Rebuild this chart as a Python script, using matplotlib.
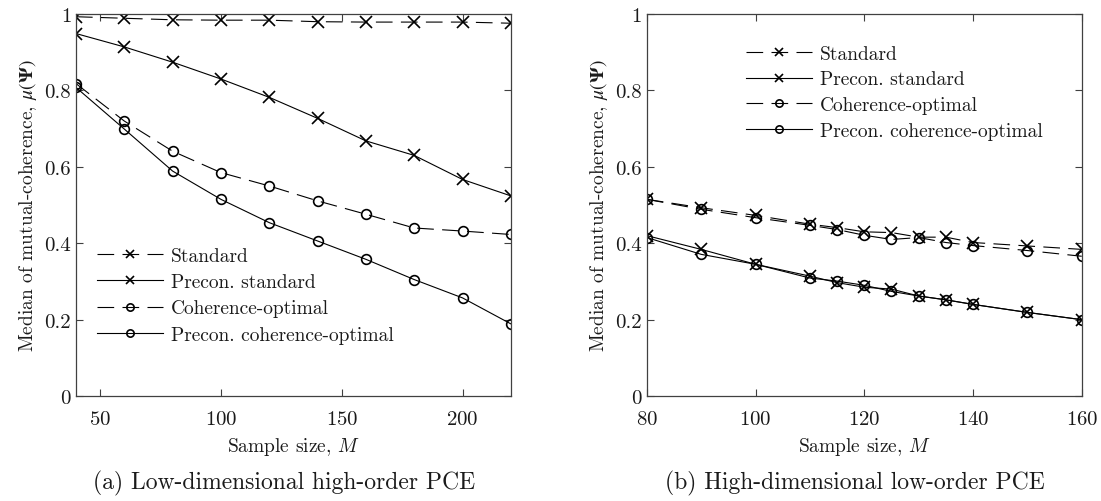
import matplotlib
matplotlib.use("Agg")
from matplotlib import pyplot as plt

plt.rcParams["font.family"] = ["cmr10", "DejaVu Serif"]
plt.rcParams["mathtext.fontset"] = "cm"
plt.rcParams["axes.formatter.use_mathtext"] = True
plt.rcParams["lines.scale_dashes"] = False
plt.rcParams["text.color"] = "#1a1a1a"
plt.rcParams["axes.labelcolor"] = "#1a1a1a"

# (a) low-dimensional high-order PCE
m_a = [40, 60, 80, 100, 120, 140, 160, 180, 200, 220]
std_a = [0.993, 0.989, 0.985, 0.984, 0.984, 0.980, 0.979, 0.979, 0.979, 0.976]
pre_std_a = [0.949, 0.914, 0.874, 0.830, 0.782, 0.727, 0.668, 0.630, 0.567, 0.524]
coh_a = [0.818, 0.720, 0.641, 0.585, 0.550, 0.511, 0.476, 0.440, 0.432, 0.423]
pre_coh_a = [0.808, 0.699, 0.589, 0.515, 0.454, 0.406, 0.358, 0.305, 0.257, 0.189]

# (b) high-dimensional low-order PCE
m_b = [80, 90, 100, 110, 115, 120, 125, 130, 135, 140, 150, 160]
std_b = [0.515, 0.493, 0.473, 0.450, 0.441, 0.430, 0.428, 0.416, 0.416, 0.402, 0.393, 0.384]
pre_std_b = [0.420, 0.384, 0.345, 0.314, 0.297, 0.285, 0.280, 0.262, 0.252, 0.240, 0.219, 0.200]
coh_b = [0.515, 0.489, 0.467, 0.447, 0.436, 0.421, 0.410, 0.415, 0.402, 0.394, 0.381, 0.366]
pre_coh_b = [0.415, 0.371, 0.345, 0.309, 0.301, 0.290, 0.274, 0.262, 0.252, 0.240, 0.219, 0.200]

labels = ["Standard", "Precon. standard", "Coherence-optimal", "Precon. coherence-optimal"]
dash = (12, 6)


def draw(ax, m, series):
    styles = [("x", True), ("x", False), ("o", True), ("o", False)]
    for y, lab, (mk, dashed) in zip(series, labels, styles):
        ms = 8 if mk == "x" else 7
        line, = ax.plot(m, y, color="black", lw=0.8, marker=mk, ms=ms,
                        mew=1.2, mfc="none", label=lab)
        if dashed:
            line.set_dashes(dash)
    ax.set_ylim(0, 1)
    ax.set_yticks([0, 0.2, 0.4, 0.6, 0.8, 1])
    ax.set_yticklabels(["0", "0.2", "0.4", "0.6", "0.8", "1"])
    ax.tick_params(direction="in", top=True, right=True, length=5,
                   labelsize=15, width=0.8, color="#404040", labelcolor="#1a1a1a")
    ax.tick_params(axis="x", pad=10)
    for s in ax.spines.values():
        s.set_color("#404040")
        s.set_linewidth(0.9)
    ax.set_xlabel("Sample size, $M$", fontsize=14, labelpad=5)
    # cm mathtext has no bold Greek, so the label's math uses stix
    ax.set_ylabel(r"Median of mutual-coherence, $\mu(\mathbf{\Psi})$", fontsize=14,
                  labelpad=4, math_fontfamily="stix")


fig = plt.figure(figsize=(11.01, 5.02), dpi=100)
ax1 = fig.add_axes([0.069, 0.209, 0.395, 0.761])
ax2 = fig.add_axes([0.5875, 0.209, 0.395, 0.761])

draw(ax1, m_a, [std_a, pre_std_a, coh_a, pre_coh_a])
ax1.set_xlim(40, 220)
ax1.set_xticks([50, 100, 150, 200])
ax1.legend(loc="upper left", bbox_to_anchor=(0.03, 0.41), frameon=False,
           fontsize=14, handlelength=3.4, handletextpad=0.4, labelspacing=0.42,
           markerscale=0.75, borderaxespad=0)

draw(ax2, m_b, [std_b, pre_std_b, coh_b, pre_coh_b])
ax2.set_xlim(80, 160)
ax2.set_xticks([80, 100, 120, 140, 160])
ax2.legend(loc="upper left", bbox_to_anchor=(0.21, 0.94), frameon=False,
           fontsize=14, handlelength=3.4, handletextpad=0.4, labelspacing=0.4,
           markerscale=0.75, borderaxespad=0)

fig.text(0.258, 0.036, "(a) Low-dimensional high-order PCE", ha="center", va="center", fontsize=17)
fig.text(0.776, 0.036, "(b) High-dimensional low-order PCE", ha="center", va="center", fontsize=17)

fig.savefig("out.png", dpi=100)
